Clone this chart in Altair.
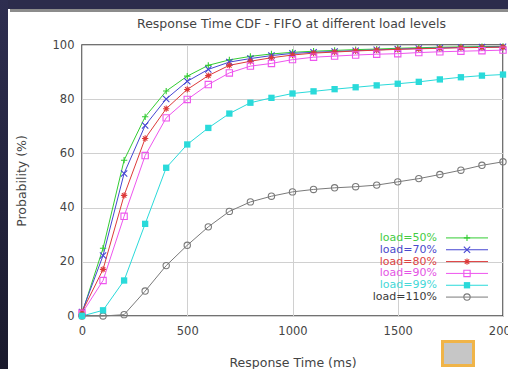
import altair as alt
import pandas as pd

# ---------------- data ----------------
times = [0, 100, 200, 300, 400, 500, 600, 700, 800, 900, 1000,
         1100, 1200, 1300, 1400, 1500, 1600, 1700, 1800, 1900, 2000]

series_names = ["load=50%", "load=70%", "load=80%", "load=90%", "load=99%", "load=110%"]

load50 = [1.0, 25.0, 57.5, 73.5, 83.0, 88.5, 92.5, 94.5, 95.8, 96.7, 97.3,
          97.7, 98.0, 98.3, 98.5, 98.8, 99.0, 99.2, 99.3, 99.4, 99.5]
load70 = [1.5, 22.3, 52.6, 70.3, 80.1, 86.6, 91.0, 93.7, 95.0, 96.1, 96.9,
          97.3, 97.6, 97.9, 98.2, 98.5, 98.7, 98.9, 99.1, 99.2, 99.3]
load80 = [1.5, 17.2, 44.5, 65.5, 76.5, 83.6, 88.7, 92.5, 94.0, 95.3, 96.3,
          97.0, 97.4, 97.8, 98.1, 98.4, 98.6, 98.8, 99.0, 99.1, 99.2]
load90 = [1.0, 13.1, 36.8, 59.2, 73.1, 79.9, 85.4, 89.7, 92.2, 93.2, 94.6,
          95.5, 95.9, 96.3, 96.6, 96.8, 97.2, 97.5, 97.7, 97.9, 98.1]
load99 = [0.0, 2.1, 13.1, 34.0, 54.7, 63.3, 69.4, 74.7, 78.7, 80.5, 82.1,
          82.9, 83.7, 84.4, 85.1, 85.7, 86.4, 87.3, 88.1, 88.7, 89.1]
load110 = [0.0, 0.0, 0.5, 9.2, 18.6, 26.1, 32.9, 38.6, 42.1, 44.2, 45.8,
           46.7, 47.3, 47.7, 48.3, 49.5, 50.7, 52.2, 53.8, 55.6, 56.9]

all_series = [load50, load70, load80, load90, load99, load110]

line_colors = ["#33cc33", "#4646d2", "#dd3a3a", "#ee55ee", "#2adada", "#7a7a7a"]
text_colors = ["#44cc44", "#4a4acc", "#dd4444", "#e455e4", "#44d8d8", "#3a3a3a"]
shape_paths = [
    "M-1,0H1M0,-1V1",
    "M-1,-1L1,1M-1,1L1,-1",
    "M-1,0H1M0,-1V1M-0.7,-0.7L0.7,0.7M-0.7,0.7L0.7,-0.7",
    "square",
    "square",
    "circle",
]
filled_series = "load=99%"

x_ticks = [0, 500, 1000, 1500, 2000]
y_ticks = [0, 20, 40, 60, 80, 100]

title_text = "Response Time CDF - FIFO at different load levels"

rows = []
for name, vals in zip(series_names, all_series):
    for t, v in zip(times, vals):
        rows.append({"series": name, "time": t, "prob": v})
df = pd.DataFrame(rows)
legend_df = pd.DataFrame({"series": series_names})
one = pd.DataFrame({"label": [title_text]})

# ---------------- layout ----------------
W, H = 421, 271
FONT = "DejaVu Sans"
TXT = "#444444"
MSIZE = 40

color_scale = alt.Scale(domain=series_names, range=line_colors)
shape_scale = alt.Scale(domain=series_names, range=shape_paths)

x_enc = alt.X("time:Q", scale=alt.Scale(domain=[0, 2000], nice=False),
              axis=alt.Axis(values=x_ticks, format="d", title="Response Time (ms)", grid=True,
                            labelFlush=False, tickSize=0, ticks=False, labelPadding=9,
                            titleY=40, titleBaseline="top", domain=False))
y_enc = alt.Y("prob:Q", scale=alt.Scale(domain=[0, 100], nice=False),
              axis=alt.Axis(values=y_ticks, format="d", title="Probability (%)", grid=True,
                            labelFlush=False, tickSize=0, ticks=False, labelPadding=8,
                            titleX=-54, titleY=H / 2, titleBaseline="bottom", domain=False))
col = alt.Color("series:N", scale=color_scale, legend=None)

lines = alt.Chart(df).mark_line(strokeWidth=1).encode(
    x=x_enc, y=y_enc, color=col, detail="series:N", order="time:Q")

pts_open = alt.Chart(df).transform_filter(
    alt.datum.series != filled_series
).mark_point(filled=False, strokeWidth=1.1, size=MSIZE, opacity=1).encode(
    x="time:Q", y="prob:Q", color=col,
    shape=alt.Shape("series:N", scale=shape_scale, legend=None))

pts_fill = alt.Chart(df).transform_filter(
    alt.datum.series == filled_series
).mark_point(filled=True, shape="square", size=MSIZE, opacity=1).encode(
    x="time:Q", y="prob:Q", color=col)

main = alt.layer(lines, pts_open, pts_fill)

# ---------------- legend (gnuplot style: label left, sample right) ----------------
ly = alt.Y("series:N", sort=series_names,
           scale=alt.Scale(domain=series_names, range=[187, 258], padding=0), axis=None)

leg_text = alt.Chart(legend_df).mark_text(
    align="right", baseline="middle", font=FONT, fontSize=11).encode(
    x=alt.value(355), y=ly, text="series:N",
    fill=alt.Fill("series:N", scale=alt.Scale(domain=series_names, range=text_colors), legend=None))
leg_rule = alt.Chart(legend_df).mark_rule(strokeWidth=1).encode(
    x=alt.value(364), x2=alt.value(406), y=ly, color=col)
leg_open = alt.Chart(legend_df).transform_filter(
    alt.datum.series != filled_series
).mark_point(filled=False, strokeWidth=1.1, size=MSIZE, opacity=1).encode(
    x=alt.value(385), y=ly, color=col,
    shape=alt.Shape("series:N", scale=shape_scale, legend=None))
leg_fill = alt.Chart(legend_df).transform_filter(
    alt.datum.series == filled_series
).mark_point(filled=True, shape="square", size=MSIZE, opacity=1).encode(
    x=alt.value(385), y=ly, color=col)

legend = alt.layer(leg_text, leg_rule, leg_open, leg_fill)

# ---------------- title as text ----------------
title = alt.Chart(one).mark_text(
    align="center", baseline="alphabetic", font=FONT, fontSize=12.5, color=TXT).encode(
    x=alt.value(W / 2 - 1), y=alt.value(-17.5), text="label:N")

# ---------------- frame decoration (dark border, shadow, small box) ----------------
dark = "#2c2c4c"
top_strip = alt.Chart(one).mark_rect(color=dark).encode(
    x=alt.value(-82), x2=alt.value(430), y=alt.value(-45), y2=alt.value(-36))
left_strip = alt.Chart(one).mark_rect(
    color=alt.LinearGradient(gradient="linear", x1=0, x2=0, y1=0, y2=1,
                             stops=[alt.GradientStop(offset=0, color="#2e2e50"),
                                    alt.GradientStop(offset=1, color="#1a1a2c")])
).encode(x=alt.value(-82), x2=alt.value(-74), y=alt.value(-45), y2=alt.value(330))
shadow = alt.Chart(one).mark_rect(color="#8c8c8c").encode(
    x=alt.value(-72), x2=alt.value(430), y=alt.value(-36), y2=alt.value(-33))
box = alt.Chart(one).mark_rect(fill="#c6c6c6", stroke="#f0b448", strokeWidth=3).encode(
    x=alt.value(360.5), x2=alt.value(391.5), y=alt.value(296.5), y2=alt.value(320.5))

chart = alt.layer(
    main, legend, title, top_strip, left_strip, shadow, box
).resolve_scale(
    y="independent"
).properties(
    width=W, height=H,
    autosize=alt.AutoSizeParams(type="none"),
    padding={"left": 82, "top": 45, "right": 5, "bottom": 53},
    background="white",
).configure_view(
    stroke="#444444", strokeWidth=1.5
).configure_axis(
    labelFont=FONT, labelFontSize=11.5, labelColor=TXT,
    titleFont=FONT, titleFontSize=12.5, titleColor=TXT, titleFontWeight="normal",
    gridColor="#d0d0d0", gridWidth=1
)

chart.save("out.html", embed_options={"renderer": "svg", "actions": False})
